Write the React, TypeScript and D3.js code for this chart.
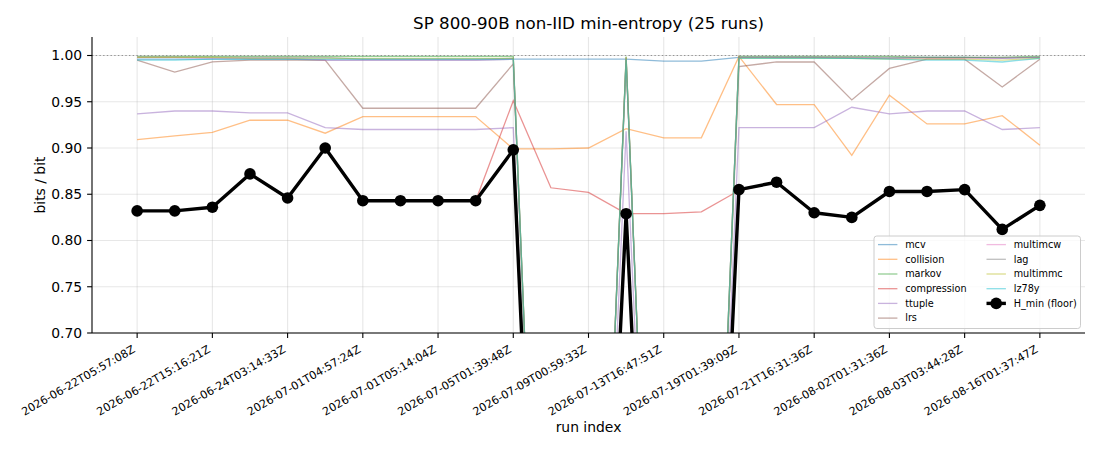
import { useEffect, useRef } from 'react'
import * as d3 from 'd3'

const RUN_LABELS = [
  '2026-06-22T05:57:08Z', '2026-06-22T15:16:21Z', '2026-06-24T03:14:33Z', '2026-07-01T04:57:24Z',
  '2026-07-01T05:14:04Z', '2026-07-05T01:39:48Z', '2026-07-09T00:59:33Z', '2026-07-13T16:47:51Z',
  '2026-07-19T01:39:09Z', '2026-07-21T16:31:36Z', '2026-08-02T01:31:36Z', '2026-08-03T03:44:28Z',
  '2026-08-16T01:37:47Z',
]
const RUN_TICKS = [0, 2, 4, 6, 8, 10, 12, 14, 16, 18, 20, 22, 24]
const Y_TICKS = [0.70, 0.75, 0.80, 0.85, 0.90, 0.95, 1.00]

const MCV = [0.996, 0.996, 0.996, 0.996, 0.996, 0.995, 0.995, 0.995, 0.995, 0.995, 0.996, 0.996, 0.996, 0.996, 0.994, 0.994, 0.998, 0.998, 0.998, 0.997, 0.997, 0.998, 0.998, 0.997, 0.998]
const COLLISION = [0.909, 0.913, 0.917, 0.930, 0.930, 0.916, 0.934, 0.934, 0.934, 0.934, 0.899, 0.899, 0.900, 0.921, 0.911, 0.911, 0.999, 0.947, 0.947, 0.892, 0.957, 0.926, 0.926, 0.935, 0.903]
const MARKOV = [0.999, 0.999, 0.999, 0.999, 0.999, 0.999, 0.999, 0.999, 0.999, 0.999, 0.999, 0, 0, 0.999, 0, 0, 0.999, 0.999, 0.999, 0.999, 0.999, 0.998, 0.998, 0.998, 0.999]
const COMPRESSION = [0.832, 0.832, 0.836, 0.872, 0.846, 0.900, 0.843, 0.843, 0.843, 0.843, 0.951, 0.857, 0.852, 0.829, 0.829, 0.831, 0.854, 0.863, 0.830, 0.825, 0.853, 0.853, 0.855, 0.812, 0.838]
const TTUPLE = [0.937, 0.940, 0.940, 0.938, 0.938, 0.922, 0.920, 0.920, 0.920, 0.920, 0.922, 0, 0, 0.918, 0, 0, 0.922, 0.922, 0.922, 0.944, 0.937, 0.940, 0.940, 0.920, 0.922]
const LRS = [0.995, 0.982, 0.993, 0.995, 0.995, 0.995, 0.943, 0.943, 0.943, 0.943, 0.991, 0, 0, 0.995, 0, 0, 0.988, 0.993, 0.993, 0.952, 0.986, 0.996, 0.996, 0.966, 0.996]
const MULTIMCW = [0.998, 0.998, 0.997, 0.997, 0.997, 0.995, 0.995, 0.995, 0.995, 0.995, 0.996, 0, 0, 0.997, 0, 0, 0.998, 0.998, 0.998, 0.998, 0.997, 0.997, 0.997, 0.997, 0.998]
const LAG = [0.998, 0.998, 0.998, 0.998, 0.998, 0.998, 0.996, 0.996, 0.996, 0.996, 0.997, 0, 0, 0.998, 0, 0, 0.998, 0.998, 0.998, 0.998, 0.998, 0.998, 0.998, 0.998, 0.998]
const MULTIMMC = [0.998, 0.998, 0.998, 0.997, 0.997, 0.997, 0.997, 0.997, 0.997, 0.997, 0.997, 0, 0, 0.998, 0, 0, 0.997, 0.997, 0.997, 0.997, 0.996, 0.996, 0.996, 0.995, 0.997]
const LZ78Y = [0.995, 0.995, 0.996, 0.996, 0.996, 0.996, 0.996, 0.996, 0.996, 0.996, 0.996, 0, 0, 0.996, 0, 0, 0.997, 0.997, 0.997, 0.997, 0.996, 0.995, 0.995, 0.993, 0.997]
const H_MIN = [0.832, 0.832, 0.836, 0.872, 0.846, 0.900, 0.843, 0.843, 0.843, 0.843, 0.898, 0, 0, 0.829, 0, 0, 0.855, 0.863, 0.830, 0.825, 0.853, 0.853, 0.855, 0.812, 0.838]

const SERIES = [
  { name: 'mcv', values: MCV, color: '#1f77b4' },
  { name: 'collision', values: COLLISION, color: '#ff7f0e' },
  { name: 'markov', values: MARKOV, color: '#2ca02c' },
  { name: 'compression', values: COMPRESSION, color: '#d62728' },
  { name: 'ttuple', values: TTUPLE, color: '#9467bd' },
  { name: 'lrs', values: LRS, color: '#8c564b' },
  { name: 'multimcw', values: MULTIMCW, color: '#e377c2' },
  { name: 'lag', values: LAG, color: '#7f7f7f' },
  { name: 'multimmc', values: MULTIMMC, color: '#bcbd22' },
  { name: 'lz78y', values: LZ78Y, color: '#17becf' },
]

const W = 1100
const H = 450
const M = { left: 92, right: 1085, top: 37, bottom: 333 }
const FONT = 'DejaVu Sans, sans-serif'

export default function App() {
  const svgRef = useRef<SVGSVGElement>(null)

  useEffect(() => {
    const svg = d3.select(svgRef.current!)
    svg.selectAll('*').remove()

    const x = d3.scaleLinear().domain([-1.2, 25.2]).range([M.left, M.right])
    const y = d3.scaleLinear().domain([0.70, 1.02]).range([M.bottom, M.top])

    svg.append('rect').attr('width', W).attr('height', H).attr('fill', 'white')
    svg.append('defs').append('clipPath').attr('id', 'plot-clip')
      .append('rect').attr('x', M.left).attr('y', M.top)
      .attr('width', M.right - M.left).attr('height', M.bottom - M.top)

    // grid
    const grid = svg.append('g').attr('stroke', '#b0b0b0').attr('stroke-opacity', 0.3).attr('stroke-width', 1.1)
    RUN_TICKS.forEach(t => grid.append('line').attr('x1', x(t)).attr('x2', x(t)).attr('y1', M.top).attr('y2', M.bottom))
    Y_TICKS.forEach(t => grid.append('line').attr('x1', M.left).attr('x2', M.right).attr('y1', y(t)).attr('y2', y(t)))

    const plot = svg.append('g').attr('clip-path', 'url(#plot-clip)')
    const line = d3.line<number>().x((_, i) => x(i)).y(d => y(d))

    SERIES.forEach(s => {
      plot.append('path').attr('d', line(s.values)).attr('fill', 'none')
        .attr('stroke', s.color).attr('stroke-opacity', 0.5).attr('stroke-width', 1.3)
    })

    // reference at 1.0
    plot.append('line').attr('x1', M.left).attr('x2', M.right).attr('y1', y(1)).attr('y2', y(1))
      .attr('stroke', '#808080').attr('stroke-opacity', 0.8).attr('stroke-width', 1.1).attr('stroke-dasharray', '1.4,2.3')

    plot.append('path').attr('d', line(H_MIN)).attr('fill', 'none')
      .attr('stroke', 'black').attr('stroke-width', 3.4).attr('stroke-linejoin', 'round')
    H_MIN.forEach((v, i) => {
      plot.append('circle').attr('cx', x(i)).attr('cy', y(v)).attr('r', 5.8).attr('fill', 'black')
    })

    // spines
    svg.append('line').attr('x1', M.left).attr('x2', M.left).attr('y1', M.top).attr('y2', M.bottom)
      .attr('stroke', 'black').attr('stroke-width', 1.1)
    svg.append('line').attr('x1', M.left).attr('x2', M.right).attr('y1', M.bottom).attr('y2', M.bottom)
      .attr('stroke', 'black').attr('stroke-width', 1.1)

    // y ticks
    Y_TICKS.forEach(t => {
      svg.append('line').attr('x1', M.left - 4.9).attr('x2', M.left).attr('y1', y(t)).attr('y2', y(t))
        .attr('stroke', 'black').attr('stroke-width', 1.1)
      svg.append('text').attr('x', M.left - 9.8).attr('y', y(t)).attr('dy', '0.35em')
        .attr('text-anchor', 'end').attr('font-family', FONT).attr('font-size', 13.9)
        .text(d3.format('.2f')(t))
    })

    // x ticks
    RUN_TICKS.forEach((t, k) => {
      svg.append('line').attr('x1', x(t)).attr('x2', x(t)).attr('y1', M.bottom).attr('y2', M.bottom + 4.9)
        .attr('stroke', 'black').attr('stroke-width', 1.1)
      svg.append('g').attr('transform', `translate(${x(t)},${M.bottom + 9.7 + 11.1}) rotate(-30)`)
        .append('text').attr('x', 0).attr('y', -2.6).attr('text-anchor', 'end')
        .attr('font-family', FONT).attr('font-size', 11.1).text(RUN_LABELS[k])
    })

    svg.append('text').attr('x', (M.left + M.right) / 2).attr('y', 29)
      .attr('text-anchor', 'middle').attr('font-family', FONT).attr('font-size', 16.7)
      .text('SP 800-90B non-IID min-entropy (25 runs)')
    svg.append('text').attr('x', (M.left + M.right) / 2).attr('y', 432)
      .attr('text-anchor', 'middle').attr('font-family', FONT).attr('font-size', 13.9)
      .text('run index')
    svg.append('text').attr('transform', `translate(45,${(M.top + M.bottom) / 2}) rotate(-90)`)
      .attr('text-anchor', 'middle').attr('font-family', FONT).attr('font-size', 13.9)
      .text('bits / bit')

    // legend
    const lg = svg.append('g')
    lg.append('rect').attr('x', 874).attr('y', 236).attr('width', 206.5).attr('height', 92.5)
      .attr('rx', 2.8).attr('fill', 'white').attr('fill-opacity', 0.8)
      .attr('stroke', '#cccccc').attr('stroke-width', 1)
    const items = [...SERIES.map(s => ({ name: s.name, color: s.color, hmin: false })),
      { name: 'H_min (floor)', color: 'black', hmin: true }]
    items.forEach((it, i) => {
      const col = i < 6 ? 0 : 1
      const row = i < 6 ? i : i - 6
      const hx = col === 0 ? 878 : 986.5
      const cy = 244.6 + row * 14.7
      const g = lg.append('g')
      if (it.hmin) {
        g.append('line').attr('x1', hx).attr('x2', hx + 19.4).attr('y1', cy).attr('y2', cy)
          .attr('stroke', 'black').attr('stroke-width', 3.4)
        g.append('circle').attr('cx', hx + 9.7).attr('cy', cy).attr('r', 5.8).attr('fill', 'black')
      } else {
        g.append('line').attr('x1', hx).attr('x2', hx + 19.4).attr('y1', cy).attr('y2', cy)
          .attr('stroke', it.color).attr('stroke-opacity', 0.5).attr('stroke-width', 1.3)
      }
      g.append('text').attr('x', hx + 27.2).attr('y', cy).attr('dy', '0.35em')
        .attr('font-family', FONT).attr('font-size', 9.7).text(it.name)
    })

    return () => { svg.selectAll('*').remove() }
  }, [])

  return (
    <svg ref={svgRef} width={W} height={H}
      style={{ position: 'fixed', left: 0, top: 0, display: 'block' }} />
  )
}
